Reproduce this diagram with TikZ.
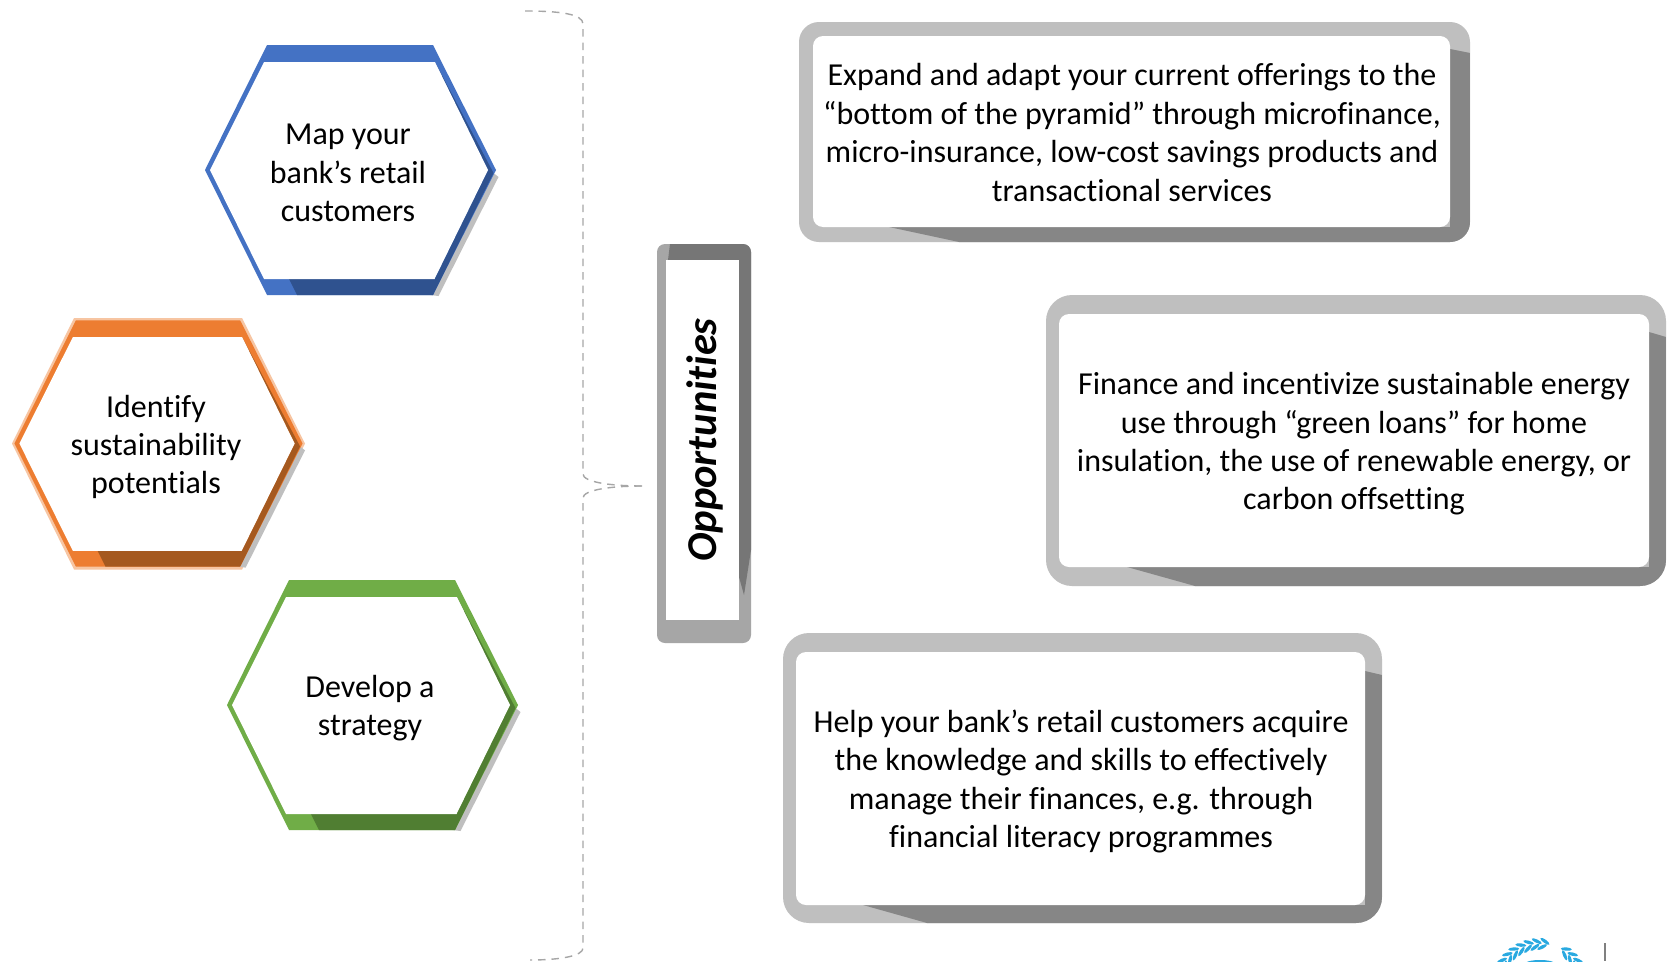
\documentclass[tikz,border=0pt]{standalone}
\usepackage{fontspec}
\setmainfont{Carlito}[Ligatures=NoCommon]
\definecolor{bluem}{HTML}{4472C4}\definecolor{blued}{HTML}{2F528F}
\definecolor{orangem}{HTML}{ED7D31}\definecolor{oranged}{HTML}{A5591F}
\definecolor{greenm}{HTML}{70AD47}\definecolor{greend}{HTML}{507E32}
\definecolor{boxl}{HTML}{BFBFBF}\definecolor{boxd}{HTML}{868686}
\definecolor{oppl}{HTML}{A6A6A6}\definecolor{oppd}{HTML}{767676}
\definecolor{lograin}{HTML}{29A9E0}
\tikzset{
  maintext/.style={align=center,inner sep=0pt,font=\fontsize{32}{38.4}\selectfont,text=black},
  bracketline/.style={draw=oppl,line width=1.4pt,dash pattern=on 7.5pt off 6pt},
  leaf/.style={fill=lograin,draw=none}
}
% #1 centre x, #2 centre y, #3 main colour, #4 dark colour
\newcommand{\hexshape}[4]{%
  \begin{scope}[shift={(#1,#2)}]
    \fill[black!25] (143,3) -- (148,7) -- (88,126) -- (80,125) -- cycle;
    \fill[#3] (-145.5,0) -- (-83.5,-125) -- (82.5,-125) -- (145.5,0) -- (82.5,125) -- (-83.5,125) -- cycle;
    \fill[#4] (84.5,-108) -- (143,3) -- (82.5,125) -- (-53.5,125) -- (-61.5,109) -- (84,109) -- (137.5,0) -- cycle;
    \fill[white] (-140.5,0) -- (-86.5,-108) -- (84.5,-108) -- (137.5,0) -- (84,109) -- (-86.5,109) -- cycle;
  \end{scope}}
% outer x1 y1 x2 y2, inner x1 y1 x2 y2, radius; \drA \drB bottom start inner/outer; \dyA \dyB right start inner/outer
\newcommand{\panelshape}[9]{%
  \fill[boxl,rounded corners=#9] (#1,#2) rectangle (#3,#4);
  \begin{scope}
    \clip[rounded corners=#9] (#1,#2) rectangle (#3,#4);
    \fill[boxd] (#7,\dyA) -- (#3,\dyB) -- (#3,#4) -- (\drB,#4) -- (\drA,#8) -- (#7,#8) -- cycle;
  \end{scope}
  \fill[white,rounded corners=10pt] (#5,#6) rectangle (#7,#8);}
\newcommand{\leafat}[3]{%
  \begin{scope}[shift={(1540,988)},rotate=#1,shift={(#2,0)},rotate=#3]
    \fill[leaf] (0,0) ellipse [x radius=1.7pt,y radius=5.5pt];
  \end{scope}}
\begin{document}
\begin{tikzpicture}[x=1pt,y=-1pt]
\useasboundingbox[fill=white] (0,0) rectangle (1667,961);

% hexagons
\hexshape{350.5}{170}{bluem}{blued}
\fill[orangem!45] (12,443.5) -- (74,318) -- (242,318) -- (305,443.5) -- (242,569.5) -- (74,569.5) -- cycle;
\begin{scope}[shift={(158.5,443.5)},xscale=.99,yscale=.985]
  \hexshape{0}{0}{orangem}{oranged}
\end{scope}
\hexshape{372.5}{705}{greenm}{greend}
\node[maintext] (hexa) at (348,173) {Map your\\bank’s retail\\customers};
\node[maintext] (hexb) at (156,447) {Identify\\sustainability\\potentials};
\node[maintext] (hexc) at (370,708) {Develop a\\strategy};

% bracket
\coordinate (tipa) at (525,11);
\coordinate (tipb) at (642,486);
\coordinate (tipc) at (530,960);
\draw[bracketline] (tipa) .. controls (560,11) and (583,14) .. (583,24) -- (583,474) .. controls (583,482) and (610,486) .. (tipb);
\draw[bracketline] (tipb) .. controls (610,486) and (583,490) .. (583,498) -- (583,948) .. controls (583,956) and (560,960) .. (tipc);

% opportunities panel
\fill[oppl,rounded corners=8pt] (657,244) rectangle (751,643);
\begin{scope}
  \clip[rounded corners=8pt] (657,244) rectangle (751,643);
  \fill[oppd] (670,244) -- (668,260) -- (739,260) -- (739,577) -- (744,595) -- (751,550) -- (751,244) -- cycle;
\end{scope}
\fill[white] (666,260) rectangle (739,620);
\node[rotate=90,inner sep=0pt,font=\fontsize{42.5}{48}\selectfont\bfseries\itshape] (opp) at (705,440) {Opportunities};

% text panels
\def\drA{889}\def\drB{959}\def\dyA{49}\def\dyB{53}
\panelshape{799}{22}{1470}{242}{813}{36}{1450}{227}{20pt}
\def\drA{1127}\def\drB{1195}\def\dyA{332}\def\dyB{337}
\panelshape{1046}{295}{1666}{586}{1059}{314}{1649}{567}{26pt}
\def\drA{863}\def\drB{927}\def\dyA{671}\def\dyB{675}
\panelshape{783}{633}{1382}{923}{796}{652}{1365}{905}{26pt}
\node[maintext] (pa) at (1132,132.5) {Expand and adapt your current offerings to the\\“bottom of the pyramid” through microfinance,\\micro-insurance, low-cost savings products and\\transactional services};
\node[maintext] (pb) at (1354,444) {Finance and incentivize sustainable energy\\use through “green loans” for home\\insulation, the use of renewable energy, or\\carbon offsetting};
\node[maintext] (pc) at (1081,781.5) {Help your bank’s retail customers acquire\\the knowledge and skills to effectively\\manage their finances, e.g. through\\financial literacy programmes};

% logo fragment at the lower edge
\begin{scope}
  \clip (1480,931) rectangle (1667,961);
  \foreach \a in {84,94,...,154} {
    \leafat{\a}{47}{-30}
    \leafat{\a+3}{41}{30}
  }
  \foreach \a in {26,36,...,60} {
    \leafat{\a}{47}{30}
    \leafat{\a-3}{41}{-30}
  }
  \fill[leaf] (1540,963) ellipse [x radius=14pt,y radius=3pt];
  \draw[black!50,line width=1.2pt] (1605,943) -- (1605,961);
\end{scope}
\end{tikzpicture}
\end{document}
